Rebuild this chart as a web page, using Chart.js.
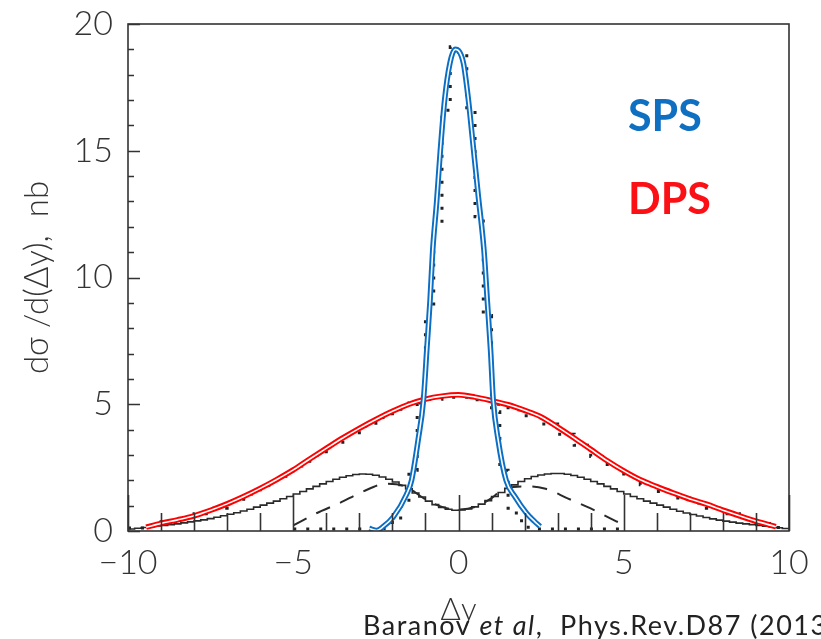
<!DOCTYPE html>
<html>
<head>
<meta charset="utf-8">
<title>dσ/d(Δy)</title>
<script src="https://cdn.jsdelivr.net/npm/chart.js@4.4.1/dist/chart.umd.min.js"></script>
<style>
  html, body { margin: 0; padding: 0; background: #fff; }
  #wrap { width: 821px; height: 639px; position: relative; overflow: hidden; }
</style>
</head>
<body>
<div id="wrap"><canvas id="dyChart" width="821" height="639"></canvas></div>
<script>
// total distribution, 0.2 wide bins from -10 to 10 (solid histogram)
const solidStart = -10;
const solidWidth = 0.2;
const solidHist = [
  0.08, 0.11, 0.14, 0.17, 0.20, 0.22, 0.25, 0.28, 0.32, 0.36,
  0.40, 0.44, 0.49, 0.54, 0.60, 0.66, 0.72, 0.79, 0.86, 0.94,
  1.02, 1.10, 1.18, 1.27, 1.36, 1.46, 1.56, 1.66, 1.76, 1.86,
  1.95, 2.04, 2.12, 2.18, 2.23, 2.25, 2.24, 2.20, 2.13, 2.04,
  1.93, 1.80, 1.66, 1.50, 1.34, 1.18, 1.04, 0.93, 0.86, 0.82,
  0.83, 0.87, 0.95, 1.06, 1.20, 1.36, 1.52, 1.68, 1.82, 1.95,
  2.06, 2.15, 2.21, 2.25, 2.27, 2.27, 2.24, 2.19, 2.12, 2.04,
  1.95, 1.86, 1.76, 1.66, 1.56, 1.46, 1.36, 1.27, 1.18, 1.10,
  1.02, 0.94, 0.86, 0.78, 0.71, 0.65, 0.59, 0.53, 0.48, 0.43,
  0.39, 0.35, 0.31, 0.28, 0.25, 0.22, 0.19, 0.16, 0.13, 0.10
];

// SPS dotted histogram, 0.25 wide bins from -5 to 5
const spsHistStart = -5;
const spsHistWidth = 0.25;
const spsHist = [
  0.08, 0.08, 0.08, 0.08, 0.08, 0.08, 0.08, 0.08, 0.08, 0.08,
  0.10, 0.20, 0.45, 1.0, 2.4, 5.3, 8.6, 12.0, 16.6, 19.1,
  18.9, 16.7, 12.4, 8.5, 4.7, 2.4, 0.9, 0.4, 0.15, 0.08,
  0.08, 0.08, 0.08, 0.08, 0.08, 0.08, 0.08, 0.08, 0.08, 0.08
];

// DPS dotted histogram, 0.5 wide bins from -10 to 10
const dpsHistStart = -10;
const dpsHistWidth = 0.5;
const dpsHist = [
  0.12, 0.24, 0.36, 0.50, 0.68, 0.90, 1.16, 1.46, 1.80, 2.16,
  2.56, 2.98, 3.40, 3.78, 4.14, 4.48, 4.80, 5.05, 5.20, 5.28,
  5.28, 5.18, 5.00, 4.78, 4.55, 4.22, 3.82, 3.38, 2.94, 2.52,
  2.14, 1.82, 1.56, 1.30, 1.10, 0.90, 0.68, 0.48, 0.30, 0.14
];

// dashed component
const dashX = [-5.0, -4.3, -3.6, -2.9, -2.2, -1.6, -1.0, -0.5, 0.0, 0.5, 1.0, 1.3, 1.9, 2.6, 3.3, 4.0, 4.7, 5.0];
const dashY = [0.22, 0.70, 1.10, 1.55, 1.86, 1.75, 1.25, 0.95, 0.85, 0.95, 1.30, 1.60, 1.76, 1.68, 1.29, 0.89, 0.43, 0.25];

// DPS prediction
const dpsX = [-9.45, -9, -8.5, -8, -7.5, -7, -6.5, -6, -5.5, -5, -4.5, -4, -3.5, -3, -2.5, -2, -1.5, -1, -0.5, 0,
  0.5, 1, 1.5, 2, 2.5, 3, 3.5, 4, 4.5, 5, 5.5, 6, 6.5, 7, 7.5, 8, 8.5, 9, 9.6];
const dpsY = [0.15, 0.30, 0.44, 0.60, 0.82, 1.07, 1.36, 1.68, 2.03, 2.41, 2.84, 3.26, 3.67, 4.05, 4.40, 4.72, 5.00, 5.20, 5.32, 5.37,
  5.28, 5.14, 4.98, 4.76, 4.50, 4.10, 3.67, 3.22, 2.77, 2.37, 2.02, 1.75, 1.50, 1.26, 1.06, 0.82, 0.60, 0.39, 0.17];

// SPS prediction
const spsX = [-2.70, -2.48, -2.28, -1.97, -1.57, -1.42, -1.22, -1.06, -0.96, -0.86, -0.78, -0.66, -0.55, -0.42, -0.26, -0.10, 0.0,
  0.15, 0.30, 0.42, 0.60, 0.77, 0.87, 0.97, 1.05, 1.20, 1.44, 1.71, 2.06, 2.30, 2.47];
const spsY = [0.10, 0.02, 0.17, 0.56, 1.45, 2.00, 3.60, 5.17, 7.14, 9.11, 11.08, 13.0, 15.0, 17.0, 18.45, 19.0, 18.95,
  18.45, 17.0, 15.5, 13.2, 11.08, 9.11, 7.14, 5.17, 3.59, 2.00, 1.35, 0.70, 0.38, 0.18];

const xTicks = [-10, -5, 0, 5, 10];
const yTicks = [0, 5, 10, 15, 20];

const numFont = { family: "Lato", weight: "300", size: 34 };
const inkColor = "#333";

function histPoints(start, width, values) {
  const pts = values.map((v, i) => ({ x: start + i * width, y: v }));
  pts.push({ x: start + values.length * width, y: values[values.length - 1] });
  return pts;
}

function curvePoints(xs, ys) {
  return xs.map((x, i) => ({ x: x, y: ys[i] }));
}

function curveSet(xs, ys, color, width, order) {
  return {
    data: curvePoints(xs, ys),
    borderColor: color,
    borderWidth: width,
    showLine: true,
    pointRadius: 0,
    cubicInterpolationMode: "monotone",
    order: order,
  };
}

// box, inward ticks (minor every unit) and the SPS/DPS/ref texts
const framePlugin = {
  id: "frame",
  afterDatasetsDraw(chart) {
    const { ctx, chartArea: a, scales: { x, y } } = chart;
    ctx.save();
    ctx.strokeStyle = inkColor;
    ctx.lineWidth = 1.6;
    ctx.strokeRect(a.left, a.top, a.right - a.left, a.bottom - a.top);
    ctx.beginPath();
    for (let v = -10; v <= 10; v++) {
      const px = Math.round(x.getPixelForValue(v)) + 0.5;
      const len = v % 5 === 0 ? 36 : 18;
      ctx.moveTo(px, a.bottom);
      ctx.lineTo(px, a.bottom - len);
    }
    for (let v = 0; v <= 20; v++) {
      const py = Math.round(y.getPixelForValue(v)) + 0.5;
      const len = v % 5 === 0 ? 12 : 6;
      ctx.moveTo(a.left, py);
      ctx.lineTo(a.left + len, py);
    }
    ctx.stroke();

    ctx.textBaseline = "alphabetic";
    ctx.font = "bold 43px Lato";
    ctx.fillStyle = "#0f6fc1";
    ctx.fillText("SPS", 628, 131);
    ctx.fillStyle = "#fa1015";
    ctx.fillText("DPS", 628, 214);

    ctx.fillStyle = "#222";
    ctx.letterSpacing = "1.5px";
    let cx = 363;
    const base = 635;
    ctx.font = "400 27px Lato";
    ctx.fillText("Baranov ", cx, base);
    cx += ctx.measureText("Baranov ").width;
    ctx.font = "italic 400 27px Lato";
    ctx.fillText("et al", cx, base);
    cx += ctx.measureText("et al").width;
    ctx.font = "400 27px Lato";
    ctx.fillText(",  Phys.Rev.D87 (2013)", cx, base);
    ctx.restore();
  },
};

const ctx = document.getElementById("dyChart").getContext("2d");

new Chart(ctx, {
  type: "scatter",
  data: {
    datasets: [
      {
        data: histPoints(solidStart, solidWidth, solidHist),
        borderColor: "#2a2a2a",
        borderWidth: 1.6,
        showLine: true,
        stepped: "before",
        pointRadius: 0,
        order: 9,
      },
      {
        data: curvePoints(dashX, dashY),
        borderColor: "#2a2a2a",
        borderWidth: 2,
        borderDash: [15, 11],
        showLine: true,
        pointRadius: 0,
        cubicInterpolationMode: "monotone",
        order: 8,
      },
      {
        data: histPoints(dpsHistStart, dpsHistWidth, dpsHist),
        borderColor: "#222",
        borderWidth: 3,
        borderDash: [3, 10],
        showLine: true,
        stepped: "before",
        pointRadius: 0,
        order: 7,
      },
      {
        data: histPoints(spsHistStart, spsHistWidth, spsHist),
        borderColor: "#222",
        borderWidth: 3,
        borderDash: [3, 10],
        showLine: true,
        stepped: "before",
        pointRadius: 0,
        order: 6,
      },
      curveSet(dpsX, dpsY, "#ff0000", 5.5, 5),
      curveSet(dpsX, dpsY, "#ffffff", 1.6, 4),
      curveSet(spsX, spsY, "#0a6fc4", 5.5, 3),
      curveSet(spsX, spsY, "#ffffff", 1.6, 2),
    ],
  },
  options: {
    responsive: false,
    animation: false,
    layout: { padding: { top: 24, right: 32, left: 0, bottom: 0 } },
    scales: {
      x: {
        type: "linear",
        min: -10,
        max: 10,
        afterFit(scale) {
          scale.height = 108;
          scale.paddingLeft = 0;
          scale.paddingRight = 0;
        },
        afterBuildTicks(scale) { scale.ticks = xTicks.map(v => ({ value: v })); },
        grid: { display: false, drawTicks: false },
        border: { display: false },
        ticks: {
          padding: 12,
          color: inkColor,
          font: numFont,
          maxRotation: 0,
          callback: v => String(v).replace("-", "\u2212"),
        },
        title: {
          display: true,
          text: "Δy",
          color: inkColor,
          font: { family: "Lato", weight: "300", size: 31 },
          padding: { top: 0, bottom: 10 },
        },
      },
      y: {
        min: 0,
        max: 20,
        afterFit(scale) {
          scale.width = 128;
          scale.paddingTop = 0;
          scale.paddingBottom = 0;
        },
        afterBuildTicks(scale) { scale.ticks = yTicks.map(v => ({ value: v })); },
        grid: { display: false, drawTicks: false },
        border: { display: false },
        ticks: {
          padding: 15,
          color: inkColor,
          font: numFont,
        },
        title: {
          display: true,
          text: "dσ /d(Δy),  nb",
          color: inkColor,
          font: { family: "Lato", weight: "300", size: 33 },
          padding: { top: 18, bottom: 0 },
        },
      },
    },
    plugins: {
      legend: { display: false },
      tooltip: { enabled: false },
    },
  },
  plugins: [framePlugin],
});
</script>
</body>
</html>
